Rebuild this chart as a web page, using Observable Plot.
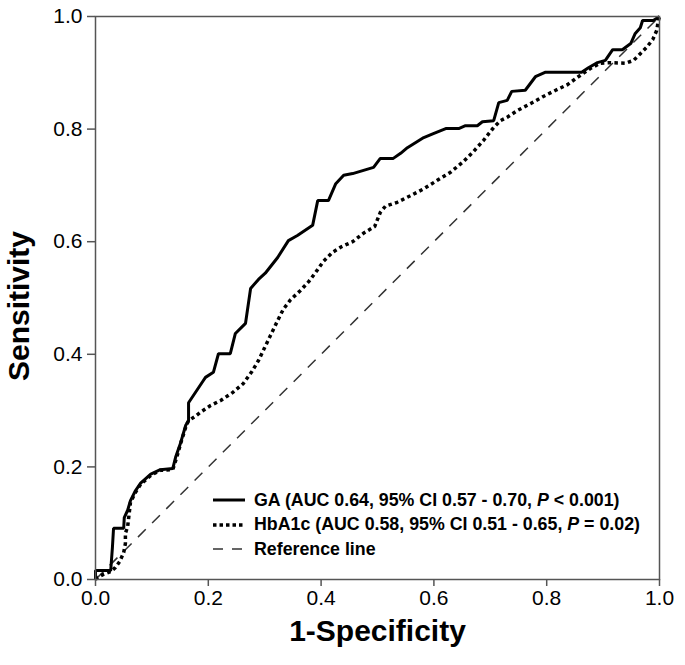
<!DOCTYPE html>
<html>
<head>
<meta charset="utf-8">
<script src="https://cdn.jsdelivr.net/npm/d3@7"></script>
<script src="https://cdn.jsdelivr.net/npm/@observablehq/plot@0.6"></script>
<style>
  html, body { margin: 0; padding: 0; background: #fff; }
  #wrap { position: relative; width: 685px; height: 665px; font-family: "Liberation Sans", Arial, sans-serif; }
  #legend { position: absolute; left: 213px; top: 488px; font-weight: bold; font-size: 17.8px; color: #000; }
  #legend .row { display: flex; align-items: center; height: 24.5px; white-space: nowrap; }
  #legend svg { margin-right: 9px; flex: none; }
</style>
</head>
<body>
<div id="wrap"><div id="legend"></div></div>
<script>
// ROC curve data: 1-Specificity (x) and Sensitivity (y)
const gaX = [0, 0, 0.027, 0.030, 0.032, 0.050, 0.051, 0.057, 0.062, 0.071, 0.080, 0.098, 0.115, 0.137, 0.142, 0.151, 0.160, 0.165, 0.165, 0.191, 0.195, 0.209, 0.218, 0.239, 0.248, 0.266, 0.275, 0.289, 0.301, 0.323, 0.342, 0.358, 0.385, 0.394, 0.413, 0.426, 0.440, 0.456, 0.493, 0.505, 0.528, 0.541, 0.553, 0.582, 0.599, 0.621, 0.644, 0.656, 0.677, 0.686, 0.706, 0.715, 0.730, 0.738, 0.762, 0.780, 0.798, 0.862, 0.874, 0.890, 0.904, 0.917, 0.934, 0.949, 0.957, 0.966, 0.970, 0.989, 1.0];
const gaY = [0, 0.016, 0.016, 0.057, 0.091, 0.091, 0.110, 0.123, 0.140, 0.158, 0.171, 0.187, 0.195, 0.197, 0.217, 0.243, 0.274, 0.282, 0.314, 0.353, 0.359, 0.368, 0.401, 0.401, 0.437, 0.455, 0.517, 0.533, 0.544, 0.572, 0.602, 0.611, 0.629, 0.673, 0.673, 0.703, 0.718, 0.721, 0.732, 0.748, 0.748, 0.757, 0.767, 0.785, 0.792, 0.801, 0.801, 0.806, 0.806, 0.813, 0.815, 0.847, 0.851, 0.867, 0.869, 0.893, 0.901, 0.901, 0.909, 0.918, 0.922, 0.941, 0.941, 0.952, 0.970, 0.980, 0.993, 0.993, 1.0];

const hbX = [0, 0.004, 0.014, 0.027, 0.035, 0.043, 0.050, 0.053, 0.053, 0.057, 0.062, 0.071, 0.080, 0.098, 0.115, 0.137, 0.144, 0.152, 0.161, 0.165, 0.177, 0.186, 0.204, 0.222, 0.243, 0.262, 0.277, 0.289, 0.300, 0.310, 0.323, 0.333, 0.346, 0.363, 0.378, 0.390, 0.404, 0.420, 0.436, 0.456, 0.475, 0.495, 0.505, 0.514, 0.535, 0.559, 0.582, 0.606, 0.629, 0.652, 0.670, 0.688, 0.706, 0.718, 0.730, 0.748, 0.771, 0.794, 0.816, 0.837, 0.856, 0.878, 0.895, 0.913, 0.940, 0.954, 0.966, 0.977, 0.988, 0.995, 0.998, 1.0];
const hbY = [0, 0.004, 0.009, 0.014, 0.021, 0.032, 0.048, 0.064, 0.082, 0.094, 0.137, 0.155, 0.169, 0.185, 0.194, 0.195, 0.217, 0.245, 0.274, 0.282, 0.290, 0.297, 0.309, 0.318, 0.332, 0.348, 0.369, 0.389, 0.412, 0.433, 0.460, 0.480, 0.497, 0.513, 0.529, 0.545, 0.565, 0.581, 0.591, 0.600, 0.615, 0.627, 0.652, 0.663, 0.670, 0.682, 0.694, 0.709, 0.723, 0.742, 0.760, 0.780, 0.803, 0.815, 0.821, 0.833, 0.845, 0.858, 0.869, 0.879, 0.893, 0.908, 0.917, 0.918, 0.917, 0.922, 0.934, 0.945, 0.959, 0.975, 0.993, 1.0];

const refX = [0, 1];
const refY = [0, 1];

const tickValues = [0, 0.2, 0.4, 0.6, 0.8, 1.0];
const xTitle = "1-Specificity";
const yTitle = "Sensitivity";

const legendItems = [
  {html: 'GA (AUC 0.64, 95% CI 0.57 - 0.70, <i>P</i> &lt; 0.001)', stroke: "#000", width: 3, dash: null},
  {html: 'HbA1c (AUC 0.58, 95% CI 0.51 - 0.65, <i>P</i> = 0.02)', stroke: "#000", width: 3.5, dash: "3.5,3"},
  {html: 'Reference line', stroke: "#333", width: 1.5, dash: "10,9"}
];

const idx = arr => d3.range(arr.length);

const chart = Plot.plot({
  width: 685,
  height: 665,
  marginLeft: 95,
  marginRight: 26,
  marginTop: 16,
  marginBottom: 86,
  style: {fontFamily: '"Liberation Sans", Arial, sans-serif', fontSize: "21px", color: "#000", background: "#fff"},
  x: {domain: [0, 1]},
  y: {domain: [0, 1]},
  marks: [
    Plot.line(idx(refX), {x: i => refX[i], y: i => refY[i], stroke: "#333", strokeWidth: 1.5, strokeDasharray: "11,9", strokeLinecap: "butt"}),
    Plot.line(idx(hbX), {x: i => hbX[i], y: i => hbY[i], stroke: "#000", strokeWidth: 3.5, strokeDasharray: "3.5,3.3", strokeLinecap: "butt", strokeLinejoin: "miter"}),
    Plot.line(idx(gaX), {x: i => gaX[i], y: i => gaY[i], stroke: "#000", strokeWidth: 3, strokeLinecap: "butt", strokeLinejoin: "miter"}),
    Plot.frame({stroke: "#555", strokeWidth: 1.5}),
    Plot.axisX({ticks: tickValues, tickFormat: ".1f", tickSize: 7, tickPadding: 4, label: null, stroke: "#555", strokeWidth: 1.5, fontSize: 21}),
    Plot.axisY({ticks: tickValues, tickFormat: ".1f", tickSize: 8, tickPadding: 5, label: null, stroke: "#555", strokeWidth: 1.5, fontSize: 21}),
    Plot.text([xTitle], {frameAnchor: "bottom", textAnchor: "middle", dy: 61, fontSize: 30, fontWeight: "bold", fill: "#000"}),
    Plot.text([yTitle], {frameAnchor: "left", textAnchor: "middle", dx: -76, dy: 8, rotate: -90, fontSize: 30, fontWeight: "bold", fill: "#000"})
  ]
});

const wrap = document.getElementById("wrap");
wrap.insertBefore(chart, wrap.firstChild);

const legend = d3.select("#legend");
legendItems.forEach(it => {
  const row = legend.append("div").attr("class", "row");
  const s = row.append("svg").attr("width", 32).attr("height", 8);
  s.append("line").attr("x1", 0).attr("x2", 32).attr("y1", 4).attr("y2", 4)
    .attr("stroke", it.stroke).attr("stroke-width", it.width)
    .attr("stroke-dasharray", it.dash);
  row.append("span").html(it.html);
});
</script>
</body>
</html>
